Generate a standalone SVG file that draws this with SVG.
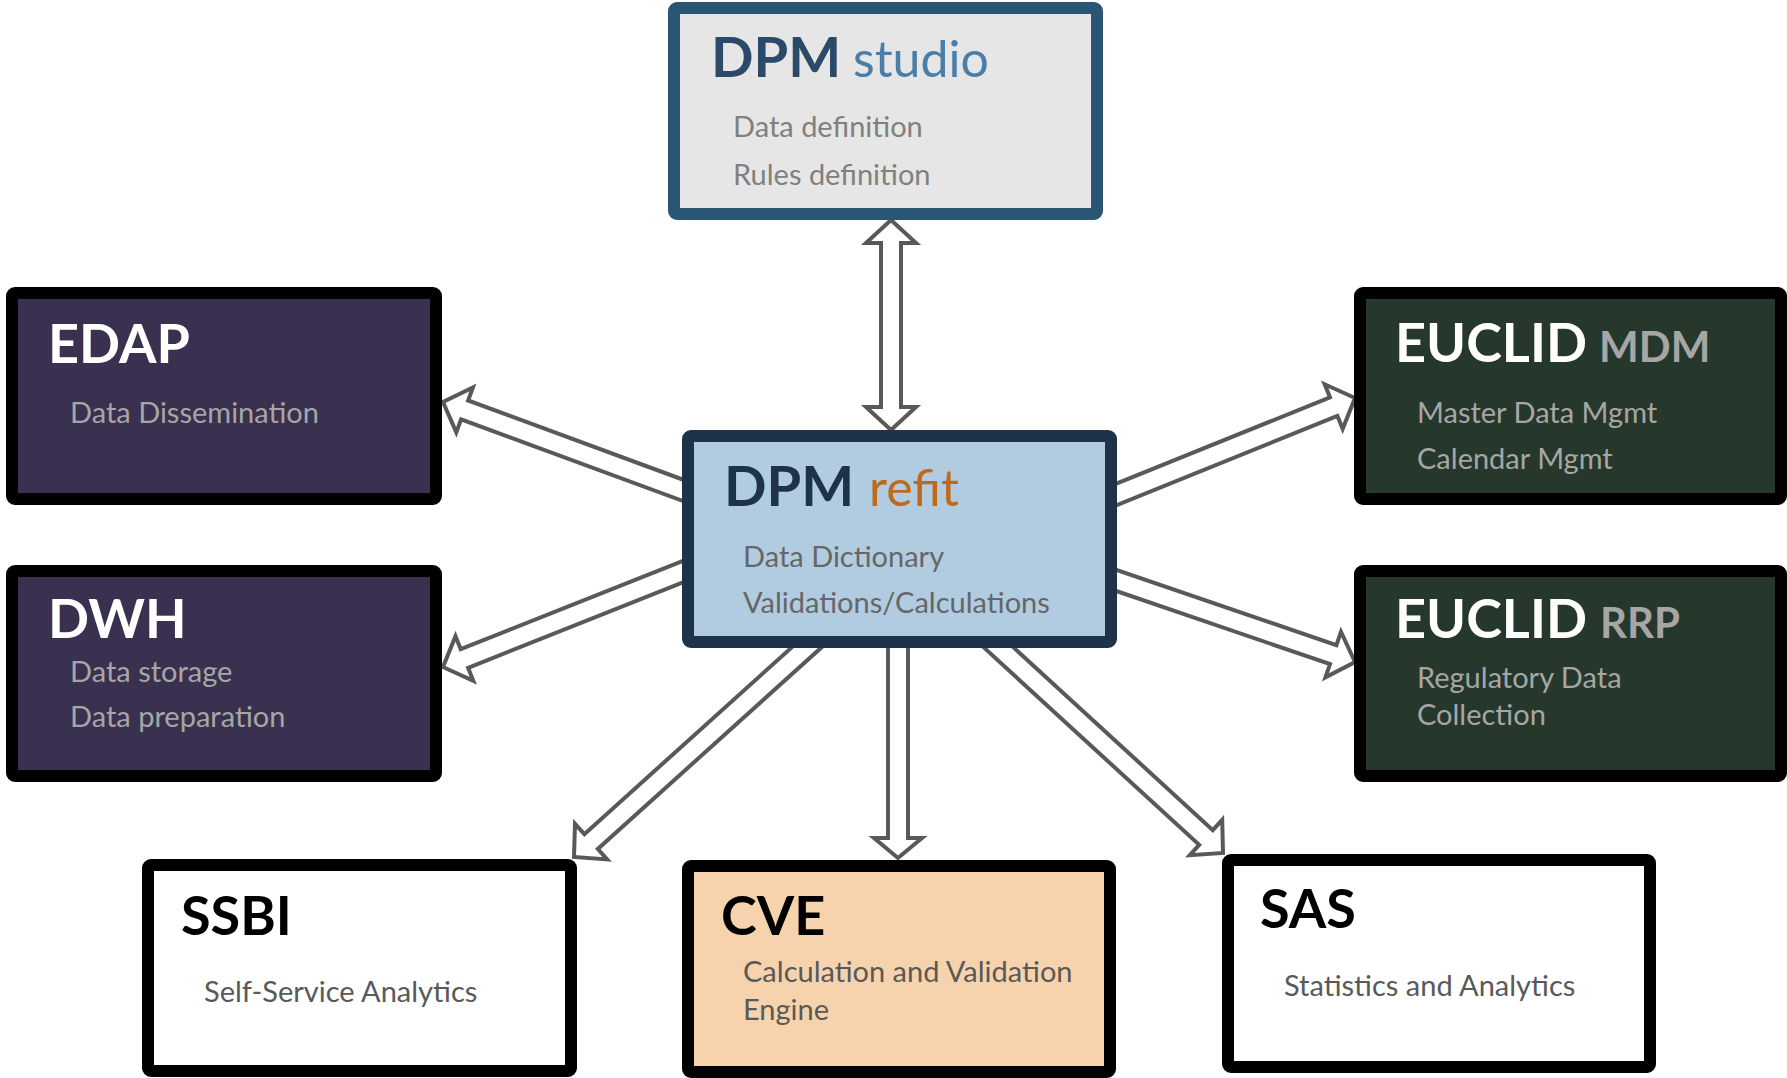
<svg xmlns="http://www.w3.org/2000/svg" width="1787" height="1078" viewBox="0 0 1787 1078">
<style>
text{font-family:Lato,"Open Sans","Liberation Sans",sans-serif}
.box{stroke-width:12;stroke-linejoin:round}
.t{font-weight:700;font-size:54px;fill:#fff}
.tb{font-size:54px;font-weight:700;fill:#000}
.b{font-size:29px}
.lg{fill:#a6a6a6}
.dg{fill:#595959}
.arr{fill:#fff;stroke:#595959;stroke-width:4;stroke-linejoin:miter}
</style>
<rect width="1787" height="1078" fill="#fff"/>
<g id="connectors">
<polygon class="arr" points="891,220 916,243 901,243 901,407 916,407 891,430 866,407 881,407 881,243 866,243"/>
<polygon class="arr" points="704.3,487.5 468.1,400.5 472.9,387.4 443,402 456.3,432.4 461.1,419.3 697.3,506.3"/>
<polygon class="arr" points="696.9,555.3 460.7,649.2 455.5,636.2 443,667 473.3,680.8 468.1,667.8 704.3,573.9"/>
<polygon class="arr" points="1100.2,511.8 1337.4,415.9 1342.7,428.8 1355,398 1324.7,384.3 1330,397.3 1092.8,493.2"/>
<polygon class="arr" points="1092.9,583 1330,664.1 1325.4,677.3 1355,662 1341,631.9 1336.4,645.1 1099.3,564"/>
<polygon class="arr" points="815.2,626.2 584.4,834.2 575,823.8 574,857 607.2,859.4 597.8,849 828.6,641"/>
<polygon class="arr" points="888,630 888,838 874,838 898,858 922,838 908,838 908,630"/>
<polygon class="arr" points="974.5,638.9 1199.2,844.9 1189.8,855.2 1223,853 1222.2,819.8 1212.8,830.1 988.1,624.1"/>
</g>
<g id="dpm-studio">
<rect class="box" x="674" y="8" width="423" height="206" rx="3" fill="#e6e6e6" stroke="#2a5573"/>
<text x="711" y="77" font-size="56" font-weight="700" fill="#2b4a69">DPM<tspan x="853" font-weight="400" font-size="50" fill="#4a7ea8">studio</tspan></text>
<text class="b" x="733" y="137" fill="#808080">Data definition</text>
<text class="b" x="733" y="185" fill="#808080">Rules definition</text>
</g>
<g id="dpm-refit">
<rect class="box" x="688" y="436" width="423" height="206" rx="3" fill="#b1cce0" stroke="#1e3349"/>
<text x="724" y="506" font-size="56" font-weight="700" fill="#1e3349">DPM<tspan x="869" font-weight="400" font-size="50" fill="#c0691a">refit</tspan></text>
<text class="b" x="743" y="567" fill="#666">Data Dictionary</text>
<text class="b" x="743" y="613" fill="#666">Validations/Calculations</text>
</g>
<g id="edap">
<rect class="box" x="12" y="293" width="424" height="206" rx="3" fill="#3a3150" stroke="#000"/>
<text class="t" x="48" y="363">EDAP</text>
<text class="b lg" x="70" y="423">Data Dissemination</text>
</g>
<g id="dwh">
<rect class="box" x="12" y="571" width="424" height="205" rx="3" fill="#3a3150" stroke="#000"/>
<text class="t" x="48" y="638">DWH</text>
<text class="b lg" x="70" y="682">Data storage</text>
<text class="b lg" x="70" y="727">Data preparation</text>
</g>
<g id="euclid-mdm">
<rect class="box" x="1360" y="293" width="421" height="206" rx="3" fill="#26382b" stroke="#000"/>
<text class="t" x="1395" y="362">EUCLID<tspan x="1599" font-size="42" fill="#a6a6a6">MDM</tspan></text>
<text class="b lg" x="1417" y="423">Master Data Mgmt</text>
<text class="b lg" x="1417" y="469">Calendar Mgmt</text>
</g>
<g id="euclid-rrp">
<rect class="box" x="1360" y="571" width="421" height="205" rx="3" fill="#26382b" stroke="#000"/>
<text class="t" x="1395" y="638">EUCLID<tspan x="1600" font-size="42" fill="#a6a6a6">RRP</tspan></text>
<text class="b lg" x="1417" y="688">Regulatory Data</text>
<text class="b lg" x="1417" y="725">Collection</text>
</g>
<g id="ssbi">
<rect class="box" x="148" y="865" width="423" height="206" rx="3" fill="#fff" stroke="#000"/>
<text class="tb" x="181" y="935">SSBI</text>
<text class="b dg" x="204" y="1002">Self-Service Analytics</text>
</g>
<g id="cve">
<rect class="box" x="688" y="866" width="422" height="206" rx="3" fill="#f6d3ad" stroke="#000"/>
<text class="tb" x="721" y="935">CVE</text>
<text class="b dg" x="743" y="982">Calculation and Validation</text>
<text class="b dg" x="743" y="1020">Engine</text>
</g>
<g id="sas">
<rect class="box" x="1228" y="860" width="422" height="207" rx="3" fill="#fff" stroke="#000"/>
<text class="tb" x="1260" y="928">SAS</text>
<text class="b dg" x="1284" y="996">Statistics and Analytics</text>
</g>
</svg>
